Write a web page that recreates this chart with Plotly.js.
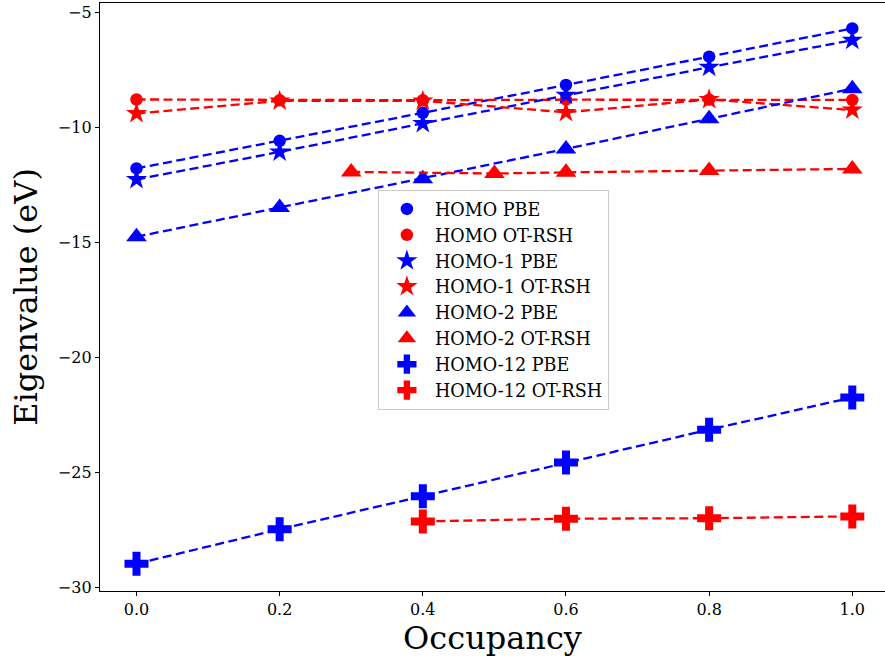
<!DOCTYPE html>
<html>
<head>
<meta charset="utf-8">
<script src="https://cdn.plot.ly/plotly-3.0.1.min.js"></script>
<style>html,body{margin:0;padding:0;background:#fff;overflow:hidden}</style>
</head>
<body>
<div id="chart" style="width:885px;height:663px"></div>
<script>
// ---- data ----
const occ = [0, 0.2, 0.4, 0.6, 0.8, 1.0];
const homoPBE = [-11.79, -10.59, -9.37, -8.16, -6.93, -5.70];
const homoOT = [-8.79, -8.82, -8.82, -8.80, -8.80, -8.81];
const homo1PBE = [-12.27, -11.07, -9.83, -8.60, -7.39, -6.21];
const homo1OT = [-9.40, -8.85, -8.85, -9.35, -8.79, -9.25];
const homo2PBE = [-14.76, -13.49, -12.24, -10.94, -9.63, -8.32];
const occ2OT = [0.3, 0.5, 0.6, 0.8, 1.0];
const homo2OT = [-11.94, -12.01, -11.96, -11.88, -11.81];
const homo12PBE = [-28.98, -27.48, -26.04, -24.58, -23.15, -21.75];
const occ12OT = [0.4, 0.6, 0.8, 1.0];
const homo12OT = [-27.14, -27.02, -27.00, -26.92];
const seriesNames = ["HOMO PBE", "HOMO OT-RSH", "HOMO-1 PBE", "HOMO-1 OT-RSH",
                     "HOMO-2 PBE", "HOMO-2 OT-RSH", "HOMO-12 PBE", "HOMO-12 OT-RSH"];
const xTicks = [0, 0.2, 0.4, 0.6, 0.8, 1.0];
const yTicks = [-30, -25, -20, -15, -10, -5];

const BLUE = "#0000ff", RED = "#ff0000";
const series = [
  {x: occ, y: homoPBE, c: BLUE, s: "circle", sz: 12.5},
  {x: occ, y: homoOT, c: RED, s: "circle", sz: 12.5},
  {x: occ, y: homo1PBE, c: BLUE, s: "star", sz: 16},
  {x: occ, y: homo1OT, c: RED, s: "star", sz: 16},
  {x: occ, y: homo2PBE, c: BLUE, s: "triangle-up", sz: 18},
  {x: occ2OT, y: homo2OT, c: RED, s: "triangle-up", sz: 18},
  {x: occ, y: homo12PBE, c: BLUE, s: "cross", sz: 20},
  {x: occ12OT, y: homo12OT, c: RED, s: "cross", sz: 20}
];

const traces = [];
series.forEach((d, i) => {
  traces.push({
    x: d.x, y: d.y, type: "scatter", mode: "lines", showlegend: false,
    hoverinfo: "skip",
    line: {color: d.c, width: 2.3, dash: "9px,4.5px"}
  });
  traces.push({
    x: d.x, y: d.y, type: "scatter", mode: "markers", name: seriesNames[i],
    marker: {color: d.c, symbol: d.s, size: d.sz, line: {width: 0}}
  });
});

const SERIF = "DejaVu Serif, serif";
const layout = {
  width: 885, height: 663,
  margin: {l: 100, r: 0, t: 3, b: 72},
  paper_bgcolor: "#ffffff", plot_bgcolor: "#ffffff",
  font: {family: SERIF, color: "#000000", size: 16},
  showlegend: true,
  legend: {
    x: 0.354, y: 0.682, xanchor: "left", yanchor: "top",
    bgcolor: "rgba(255,255,255,0.85)", bordercolor: "#cccccc", borderwidth: 1,
    font: {family: SERIF, size: 17.6, color: "#000000"},
    itemwidth: 46, tracegroupgap: 0
  },
  xaxis: {
    range: [-0.051, 1.0457],
    tickvals: xTicks, tickformat: ".1f",
    ticks: "outside", ticklen: 4, tickwidth: 1, tickcolor: "#000",
    showline: true, linecolor: "#000", linewidth: 1.2, mirror: true,
    showgrid: false, zeroline: false,
    tickfont: {family: SERIF, size: 16},
    title: {text: "Occupancy", font: {family: SERIF, size: 32}, standoff: 8}
  },
  yaxis: {
    range: [-30.165, -4.595],
    tickvals: yTicks,
    ticks: "outside", ticklen: 4, tickwidth: 1, tickcolor: "#000",
    showline: true, linecolor: "#000", linewidth: 1.2, mirror: false,
    showgrid: false, zeroline: false,
    tickfont: {family: SERIF, size: 16},
    title: {text: "Eigenvalue (eV)", font: {family: SERIF, size: 32}, standoff: 10}
  }
};

Plotly.newPlot("chart", traces, layout, {displayModeBar: false, staticPlot: true});
</script>
</body>
</html>
